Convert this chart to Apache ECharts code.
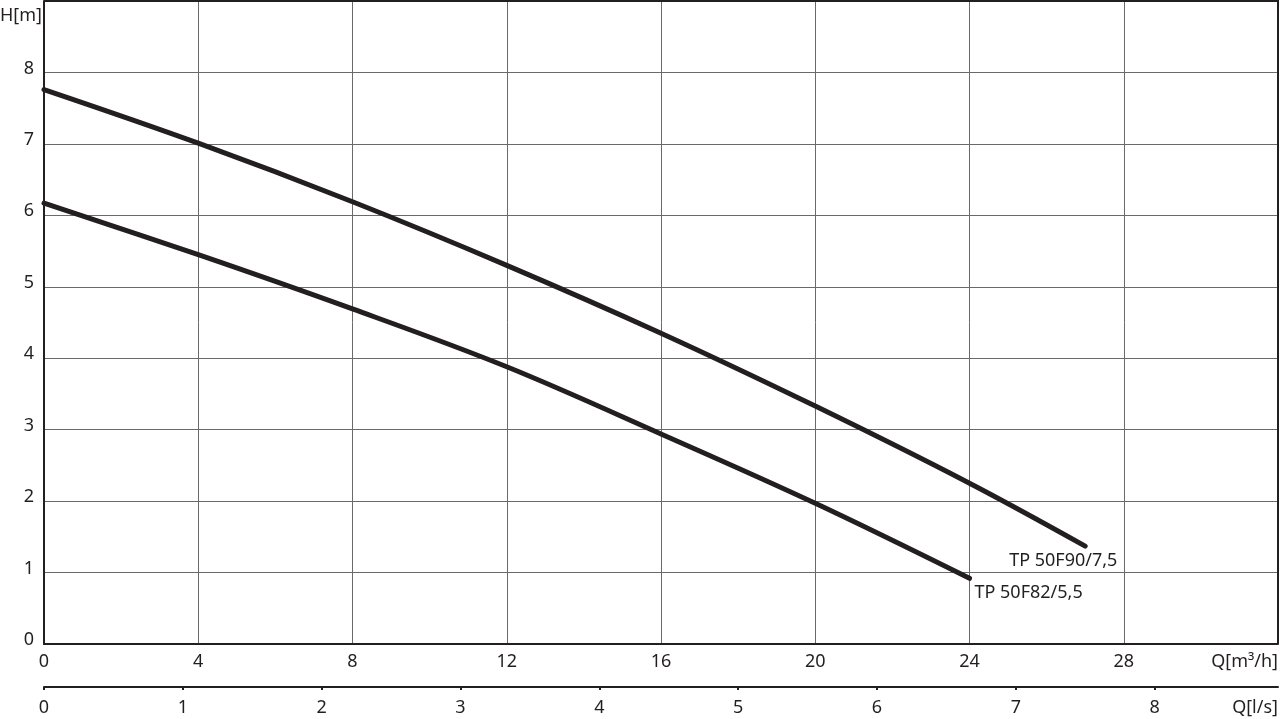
<!DOCTYPE html>
<html>
<head>
<meta charset="utf-8">
<script src="https://cdn.jsdelivr.net/npm/echarts@6/dist/echarts.min.js"></script>
<style>
html,body{margin:0;padding:0;background:#fff;}
#chart{width:1280px;height:719px;}
</style>
</head>
<body>
<div id="chart"></div>
<script>
// Q [m³/h] and H [m]
const qUpper = [0, 4, 8, 12, 16, 20, 24, 27];
const hUpper = [7.76, 7.01, 6.19, 5.30, 4.35, 3.33, 2.25, 1.37];
const qLower = [0, 4, 8, 12, 16, 20, 24];
const hLower = [6.17, 5.45, 4.69, 3.88, 2.94, 1.97, 0.92];
const nameUpper = 'TP 50F90/7,5';
const nameLower = 'TP 50F82/5,5';
const qTicks = [0, 4, 8, 12, 16, 20, 24, 28];
const lsTicks = [0, 1, 2, 3, 4, 5, 6, 7, 8];
const hTicks = [0, 1, 2, 3, 4, 5, 6, 7, 8];
const qMax = 32, hMax = 9, lsFactor = 3.6;

const FONT = 'Noto Sans';
const FS = 18;
const TXT = '#231f20';

const chart = echarts.init(document.getElementById('chart'), null, {renderer: 'canvas'});
const pairs = (xs, ys) => xs.map((x, i) => [x, ys[i]]);

chart.setOption({
  animation: false,
  backgroundColor: '#fff',
  textStyle: {fontFamily: FONT},
  grid: [
    {left: 44, right: 2, top: 1, bottom: 75, containLabel: false},
    {left: 44, right: 2, top: 686, height: 1, containLabel: false}
  ],
  xAxis: [
    {
      gridIndex: 0, type: 'value', min: 0, max: qMax, interval: 4,
      axisLine: {show: true, onZero: false, lineStyle: {color: '#231f20', width: 2}},
      axisTick: {show: false},
      splitLine: {show: true, lineStyle: {color: '#6a6a6a', width: 1}},
      axisLabel: {
        color: TXT, fontSize: FS, fontFamily: FONT, margin: 9,
        showMaxLabel: false,
        formatter: v => qTicks.includes(v) ? String(v) : ''
      }
    },
    {
      gridIndex: 1, type: 'value', min: 0, max: qMax / lsFactor, interval: 1,
      axisLine: {show: true, onZero: false, lineStyle: {color: '#231f20', width: 2}},
      axisTick: {show: true, inside: false, length: 3, lineStyle: {color: '#231f20', width: 2}},
      splitLine: {show: false},
      axisLabel: {
        color: TXT, fontSize: FS, fontFamily: FONT, margin: 12,
        showMaxLabel: false,
        formatter: v => lsTicks.includes(v) ? String(v) : ''
      }
    }
  ],
  yAxis: [
    {
      gridIndex: 0, type: 'value', min: 0, max: hMax, interval: 1,
      axisLine: {show: true, onZero: false, lineStyle: {color: '#231f20', width: 2}},
      axisTick: {show: false},
      splitLine: {show: true, lineStyle: {color: '#6a6a6a', width: 1}},
      axisLabel: {
        color: TXT, fontSize: FS, fontFamily: FONT, margin: 10,
        showMaxLabel: false, verticalAlign: 'bottom', lineHeight: 8,
        formatter: v => hTicks.includes(v) ? String(v) : ''
      }
    },
    {gridIndex: 1, type: 'value', show: false, min: 0, max: 1}
  ],
  graphic: [
    {type: 'line', shape: {x1: 44, y1: 1, x2: 1278, y2: 1}, style: {stroke: '#231f20', lineWidth: 2}, z: 10},
    {type: 'line', shape: {x1: 1278, y1: 0, x2: 1278, y2: 644}, style: {stroke: '#231f20', lineWidth: 2}, z: 10},
    {type: 'text', left: 0, top: 7, style: {text: 'H[m]', fill: TXT, font: FS + 'px "Noto Sans"'}},
    {type: 'text', right: 2, top: 653, style: {text: 'Q[m³/h]', fill: TXT, font: FS + 'px "Noto Sans"'}},
    {type: 'text', right: 2, top: 699, style: {text: 'Q[l/s]', fill: TXT, font: FS + 'px "Noto Sans"'}}
  ],
  series: [
    {
      name: nameUpper, type: 'line', xAxisIndex: 0, yAxisIndex: 0,
      data: pairs(qUpper, hUpper), smooth: 0.35, showSymbol: false,
      lineStyle: {color: '#231f20', width: 5, cap: 'round'},
      endLabel: {show: true, formatter: nameUpper, color: TXT, fontSize: FS, fontFamily: FONT,
        align: 'left', verticalAlign: 'middle', distance: 0, offset: [-76, 15]}
    },
    {
      name: nameLower, type: 'line', xAxisIndex: 0, yAxisIndex: 0,
      data: pairs(qLower, hLower), smooth: 0.35, showSymbol: false,
      lineStyle: {color: '#231f20', width: 5, cap: 'round'},
      endLabel: {show: true, formatter: nameLower, color: TXT, fontSize: FS, fontFamily: FONT,
        align: 'left', verticalAlign: 'middle', distance: 0, offset: [5, 15]}
    }
  ]
});
</script>
</body>
</html>
